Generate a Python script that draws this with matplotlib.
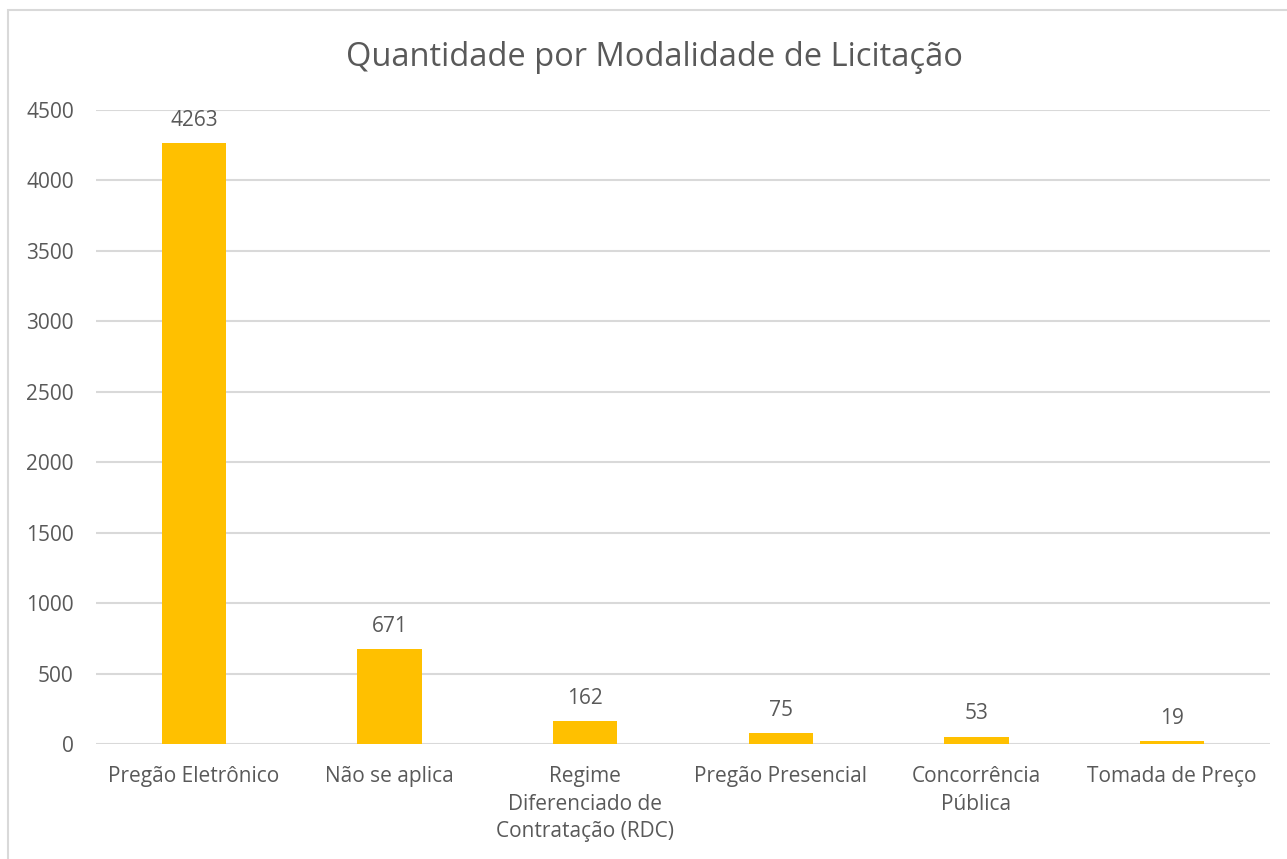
import matplotlib.pyplot as plt
from matplotlib.patches import Rectangle

categorias = [
    "Pregão Eletrônico",
    "Não se aplica",
    "Regime\nDiferenciado de\nContratação (RDC)",
    "Pregão Presencial",
    "Concorrência\nPública",
    "Tomada de Preço",
]
quantidades = [4263, 671, 162, 75, 53, 19]
yticks = [0, 500, 1000, 1500, 2000, 2500, 3000, 3500, 4000, 4500]

cor_texto = "#595959"
cor_grade = "#D9D9D9"
cor_barra = "#FFC000"

plt.rcParams["font.family"] = ["Open Sans", "DejaVu Sans"]

fig = plt.figure(figsize=(12.87, 8.59), dpi=100)
ax = fig.add_axes([96 / 1287, 1 - 744 / 859, 1174 / 1287, 634 / 859])

# moldura do gráfico
fig.patches.append(Rectangle((8 / 1287, -0.05), 1.1, 1 - 10 / 859 + 0.05,
                             transform=fig.transFigure, fill=False,
                             edgecolor=cor_grade, linewidth=1.5))

x = range(len(categorias))
ax.bar(x, quantidades, width=0.33, color=cor_barra, zorder=3)

for i, v in zip(x, quantidades):
    ax.annotate(str(v), (i, v), xytext=(0, 9), textcoords="offset points",
                ha="center", va="bottom", fontsize=15, color=cor_texto)

ax.set_xlim(-0.5, len(categorias) - 0.5)
ax.set_ylim(0, 4500)
ax.set_yticks(yticks)
ax.set_xticks(list(x))
ax.set_xticklabels(categorias, fontsize=15, color=cor_texto, linespacing=1.4)
ax.tick_params(axis="y", labelsize=15, labelcolor=cor_texto, length=0, pad=16)
ax.tick_params(axis="x", length=0, pad=16)

ax.grid(axis="y", color=cor_grade, linewidth=1.5, zorder=0)
for s in ax.spines.values():
    s.set_visible(False)

fig.text(654 / 1287, 1 - 57 / 859, "Quantidade por Modalidade de Licitação",
         ha="center", va="center", fontsize=23.5, color=cor_texto)

fig.savefig("out.png", dpi=100)
